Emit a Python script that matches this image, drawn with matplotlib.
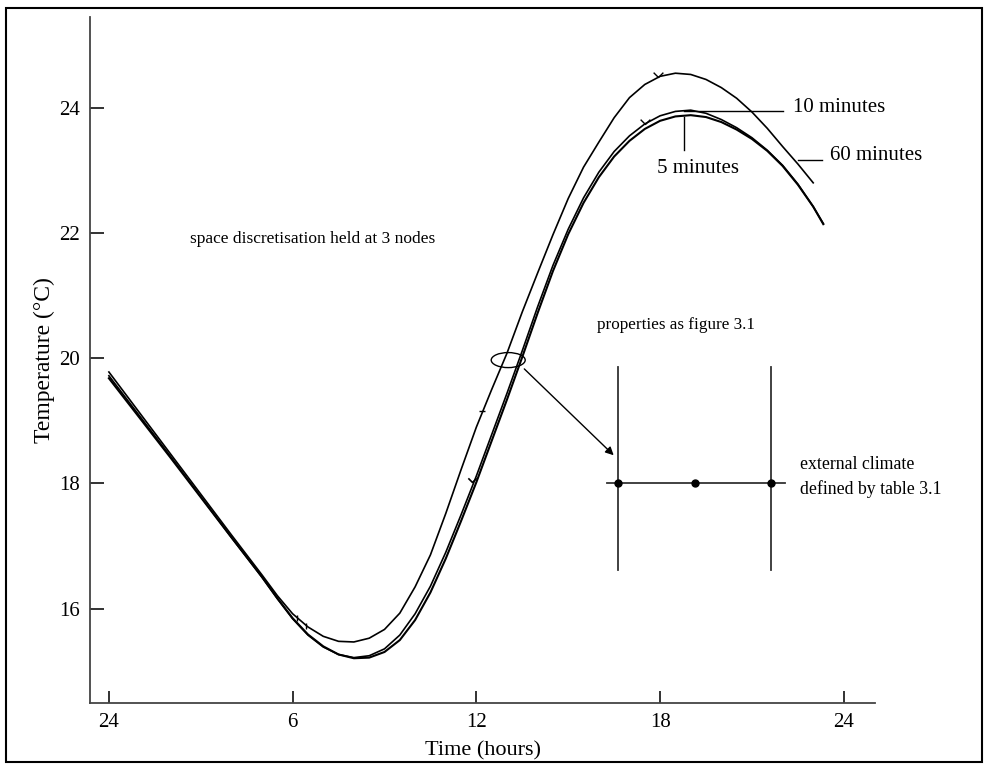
import matplotlib
matplotlib.use("Agg")
import matplotlib.pyplot as plt
from matplotlib.patches import Ellipse, Rectangle
from matplotlib.path import Path

plt.rcParams['font.family'] = ['Liberation Serif', 'DejaVu Serif']

# values (time in hours, temperature in degC)
hours = [0, 1, 2, 3, 4, 5, 5.5, 6.0, 6.5, 7.0, 7.5, 8.0, 8.5, 9.0, 9.5, 10.0,
         10.5, 11.0, 11.5, 12.0, 12.5, 13.0, 13.5, 14.0, 14.5, 15.0, 15.5, 16.0,
         16.5, 17.0, 17.5, 18.0, 18.5, 19.0, 19.5, 20.0, 20.5, 21.0, 21.5, 22.0,
         22.5, 23.0, 23.33]

temp_60 = [19.78, 19.13, 18.48, 17.83, 17.18, 16.54, 16.21, 15.92, 15.71, 15.56,
           15.48, 15.47, 15.53, 15.67, 15.93, 16.35, 16.86, 17.52, 18.22, 18.9,
           19.5, 20.08, 20.74, 21.36, 21.97, 22.55, 23.05, 23.45, 23.84, 24.16,
           24.37, 24.5, 24.55, 24.53, 24.45, 24.32, 24.15, 23.93, 23.67, 23.38,
           23.1, 22.8]

temp_10 = [19.72, 19.08, 18.44, 17.79, 17.14, 16.5, 16.16, 15.84, 15.58, 15.39,
           15.27, 15.22, 15.25, 15.36, 15.58, 15.92, 16.36, 16.9, 17.5, 18.12,
           18.78, 19.44, 20.12, 20.82, 21.48, 22.06, 22.56, 22.97, 23.3, 23.55,
           23.74, 23.87, 23.94, 23.96, 23.91, 23.81, 23.68, 23.52, 23.32, 23.08,
           22.78, 22.42, 22.15]

temp_5 = [19.68, 19.05, 18.42, 17.78, 17.14, 16.51, 16.17, 15.85, 15.59, 15.4,
          15.27, 15.21, 15.22, 15.31, 15.5, 15.82, 16.26, 16.8, 17.4, 18.02,
          18.68, 19.34, 20.02, 20.72, 21.39, 21.98, 22.48, 22.89, 23.22, 23.47,
          23.66, 23.79, 23.86, 23.88, 23.85, 23.77, 23.65, 23.5, 23.31, 23.07,
          22.77, 22.42, 22.14]

xtick_pos = [0, 6, 12, 18, 24]
xtick_labels = ['24', '6', '12', '18', '24']
ytick_pos = [16, 18, 20, 22, 24]

# three-node sketch of the wall
node_hours = [16.63, 19.15, 21.63]
node_temp = 18.0

fig = plt.figure(figsize=(9.88, 7.65), dpi=100)
ax = fig.add_axes([0.091, 0.081, 0.795, 0.897])

ax.plot(hours[:len(temp_60)], temp_60, color='black', lw=1.2)
ax.plot(hours, temp_10, color='black', lw=1.2)
ax.plot(hours, temp_5, color='black', lw=1.5)

# little "v" marks along the curves
vmark = Path([(-1, 1), (0, 0), (1, 1)], [Path.MOVETO, Path.LINETO, Path.LINETO])
ax.plot([17.94], [24.49], marker=vmark, ms=7, mfc='none', mec='black', mew=1, ls='none')
ax.plot([17.5], [23.74], marker=vmark, ms=7, mfc='none', mec='black', mew=1, ls='none')
ax.plot([11.86], [18.02], marker=vmark, ms=6, mfc='none', mec='black', mew=1.2, ls='none')
ax.plot([12.2], [19.15], marker='_', ms=5, mec='black', mew=1, ls='none')
ax.plot([6.15, 6.45], [15.86, 15.72], marker='|', ms=4, mec='black', mew=1, ls='none')

ax.set_xlim(-0.62, 25.03)
ax.set_ylim(14.495, 25.45)
ax.set_xticks(xtick_pos)
ax.set_xticklabels(xtick_labels)
ax.set_yticks(ytick_pos)
ax.tick_params(direction='in', labelsize=15, width=1.3, color='#222222')
ax.tick_params(axis='x', length=9, pad=7)
ax.tick_params(axis='y', length=10, pad=7)
for side in ['top', 'right']:
    ax.spines[side].set_visible(False)
for side in ['left', 'bottom']:
    ax.spines[side].set_linewidth(1.3)
    ax.spines[side].set_color('#444444')

ax.set_xlabel('Time (hours)', fontsize=16, labelpad=7)
ax.set_ylabel('Temperature (°C)', fontsize=17, labelpad=3)

# annotations
ax.text(2.65, 21.9, 'space discretisation held at 3 nodes', fontsize=12.5, va='center')
ax.text(15.95, 20.53, 'properties as figure 3.1', fontsize=12.3, va='center')
ax.text(22.58, 18.1, 'external climate\ndefined by table 3.1', fontsize=12.8,
        va='center', linespacing=1.5)

ax.plot([18.77, 22.0], [23.95, 23.95], color='black', lw=1)
ax.text(22.35, 24.0, '10 minutes', fontsize=15, va='center')
ax.plot([18.77, 18.77], [23.85, 23.33], color='black', lw=1)
ax.text(19.25, 23.03, '5 minutes', fontsize=15, va='center', ha='center')
ax.plot([22.5, 23.3], [23.17, 23.17], color='black', lw=1)
ax.text(23.55, 23.23, '60 minutes', fontsize=15, va='center')

ax.add_patch(Ellipse((13.04, 19.97), 1.11, 0.24, fill=False, lw=1, color='black'))
ax.annotate('', xy=(16.55, 18.42), xytext=(13.5, 19.86),
            arrowprops=dict(arrowstyle='-|>', color='black', lw=1, mutation_scale=12))

ax.plot([node_hours[0], node_hours[0]], [16.62, 19.86], color='#333333', lw=1.3)
ax.plot([node_hours[2], node_hours[2]], [16.62, 19.86], color='#333333', lw=1.3)
ax.plot([16.27, 22.09], [node_temp, node_temp], color='#333333', lw=1.3)
ax.plot(node_hours, [node_temp] * 3, 'o', color='black', ms=5)

fig.patches.append(Rectangle((0.006, 0.004), 0.988, 0.986, transform=fig.transFigure,
                             fill=False, lw=1.5, edgecolor='black'))

fig.savefig('out.png', dpi=100)
